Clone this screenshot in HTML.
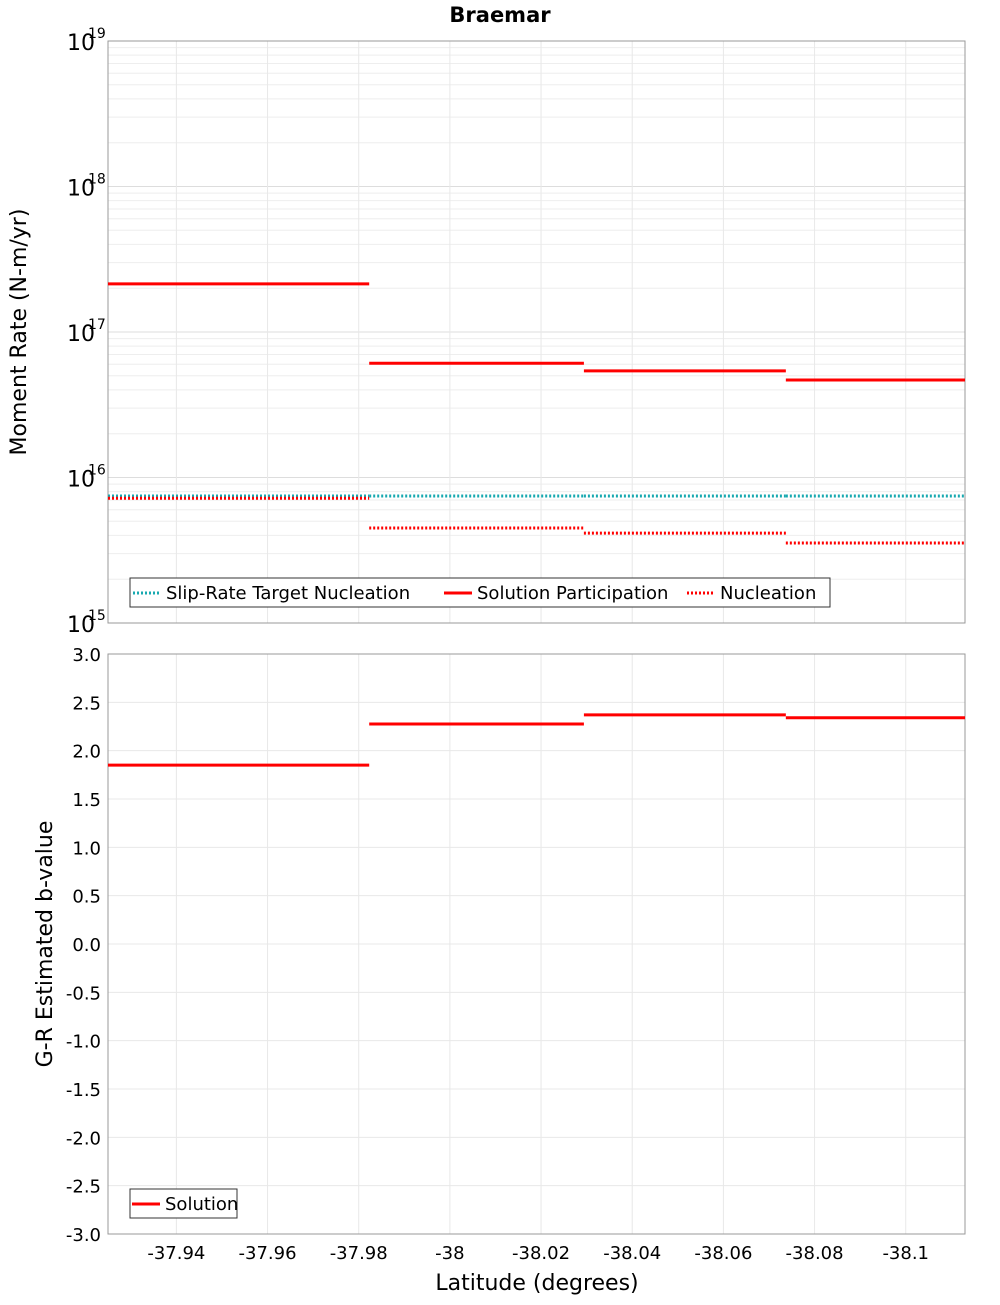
<!DOCTYPE html>
<html><head><meta charset="utf-8"><style>
body{margin:0;background:#fff;}
svg text{font-family:"DejaVu Sans","Liberation Sans",sans-serif;fill:#000;}
</style></head><body>
<svg id="c" width="1000" height="1300" xmlns="http://www.w3.org/2000/svg">
<text x="500" y="22" text-anchor="middle" font-size="21" font-weight="bold">Braemar</text>
<g id="topG"></g><g id="botG"></g>
<text x="537" y="1290" text-anchor="middle" font-size="22">Latitude (degrees)</text>
<text transform="translate(26,332) rotate(-90)" text-anchor="middle" font-size="22">Moment Rate (N-m/yr)</text>
<text transform="translate(52,944) rotate(-90)" text-anchor="middle" font-size="22">G-R Estimated b-value</text>
</svg>
<script>
const segEdges=[-37.925,-37.9823,-38.0294,-38.0737,-38.113];
const participation=[2.14e17,6.1e16,5.4e16,4.68e16];
const nucleation=[7.2e15,4.5e15,4.15e15,3.55e15];
const targetNucleation=[7.46e15,7.46e15,7.46e15,7.46e15];
const bValues=[1.85,2.276,2.37,2.34];
const xTicks=[-37.94,-37.96,-37.98,-38,-38.02,-38.04,-38.06,-38.08,-38.1];
const xTickLabels=["-37.94","-37.96","-37.98","-38","-38.02","-38.04","-38.06","-38.08","-38.1"];
const logTicks=[15,16,17,18,19];
const bTicks=[-3,-2.5,-2,-1.5,-1,-0.5,0,0.5,1,1.5,2,2.5,3];

const NS="http://www.w3.org/2000/svg";
const L=108,R=965,T1=41,B1=623,T2=654,B2=1234;
const xMin=-37.925,xMax=-38.113;
const X=v=>L+(v-xMin)/(xMax-xMin)*(R-L);
const Y1=v=>B1-(Math.log10(v)-15)/4*(B1-T1);
const Y2=v=>B2-(v+3)/6*(B2-T2);
function mk(p,tag,a){const e=document.createElementNS(NS,tag);for(const k in a)e.setAttribute(k,a[k]);p.appendChild(e);return e;}
const topG=document.getElementById('topG'),botG=document.getElementById('botG');

for(let d=15;d<19;d++)for(let m=1;m<10;m++){const y=Y1(m*Math.pow(10,d));
 const g=mk(topG,'line',{x1:L,x2:R,y1:y,y2:y,stroke:m==1?'#ddd':'#eee','stroke-width':1});
 
 }
for(const v of xTicks){for(const [p,t,b] of [[topG,T1,B1],[botG,T2,B2]]){
 const g=mk(p,'line',{x1:X(v),x2:X(v),y1:t,y2:b,stroke:'#e8e8e8'});
 
 }}
for(const v of bTicks){const g=mk(botG,'line',{x1:L,x2:R,y1:Y2(v),y2:Y2(v),stroke:'#e8e8e8'});
 
 }
for(const [p,t,b] of [[topG,T1,B1],[botG,T2,B2]]){const f=mk(p,'rect',{x:L,y:t,width:R-L,height:b-t,fill:'none',stroke:'#999'});
 
 }

for(const e of logTicks){const y=Y1(Math.pow(10,e));
 const t=mk(topG,'text',{x:95,y:y+9,'text-anchor':'end','font-size':22});t.textContent='10';
 
 
 const s=mk(topG,'text',{x:88,y:y-3,'font-size':14});s.textContent=String(e);
 
 }
for(const v of bTicks){const t=mk(botG,'text',{x:101,y:Y2(v)+7,'text-anchor':'end','font-size':18});t.textContent=v.toFixed(1);
 
 }
xTicks.forEach((v,i)=>{const t=mk(botG,'text',{x:X(v),y:1259,'text-anchor':'middle','font-size':18});t.textContent=xTickLabels[i];
 
 });

function steps(p,arr,Yf,color,dash,name){arr.forEach((v,i)=>{
 const a={x1:X(segEdges[i]),x2:X(segEdges[i+1]),y1:Yf(v),y2:Yf(v),stroke:color,'stroke-width':3};
 if(dash)a['stroke-dasharray']='2,2';const l=mk(p,'line',a);
 
 });}
steps(topG,targetNucleation,Y1,'#17a9b0',true,'target-nucleation-segment');
steps(topG,participation,Y1,'#f00',false,'participation-segment');
steps(topG,nucleation,Y1,'#f00',true,'nucleation-segment');
steps(botG,bValues,Y2,'#f00',false,'b-value-segment');

function legend(p,x,y,w,items,name){const g=mk(p,'g',{});
 
 
 mk(g,'rect',{x:x,y:y,width:w,height:29,fill:'#fff',stroke:'#333'});
 for(const it of items){const a={x1:it.x,x2:it.x+28,y1:y+15,y2:y+15,stroke:it.c,'stroke-width':3};if(it.d)a['stroke-dasharray']='2,2';
  mk(g,'line',a);const t=mk(g,'text',{x:it.x+33,y:y+21,'font-size':18});t.textContent=it.t;
  
  }}
legend(topG,130,578,700,[{x:133,c:'#17a9b0',d:1,t:'Slip-Rate Target Nucleation'},{x:444,c:'#f00',d:0,t:'Solution Participation'},{x:687,c:'#f00',d:1,t:'Nucleation'}],'top-legend');
legend(botG,130,1189,107,[{x:132,c:'#f00',d:0,t:'Solution'}],'bottom-legend');
</script>
</body></html>
